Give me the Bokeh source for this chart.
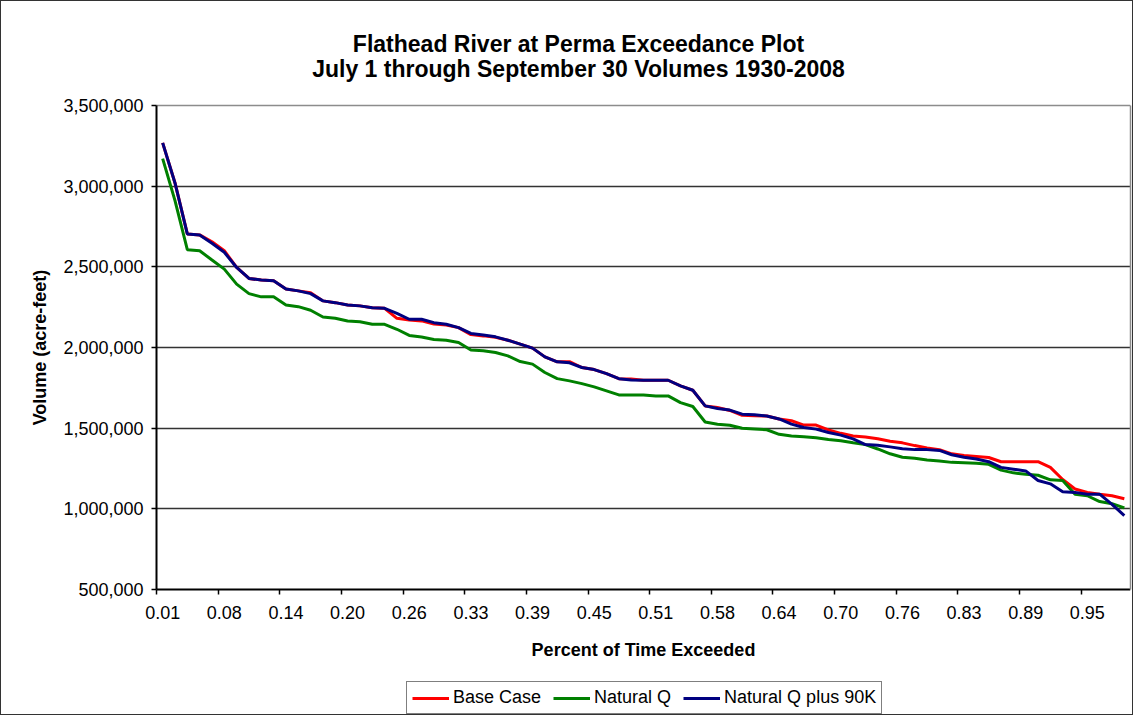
from bokeh.plotting import figure
from bokeh.models import (FixedTicker, NumeralTickFormatter, Legend, LegendItem,
                          Label, ColumnDataSource, LinearAxis, Grid)
from bokeh.embed import file_html
from bokeh.resources import INLINE

# ---------------- data (acre-feet), ranked years 1..79 ----------------
rank = list(range(1, 80))

base_case = [
    3268000, 3020000, 2704000, 2698000, 2655000, 2600000, 2496000, 2428000, 2418000, 2413000,
    2362000, 2351000, 2340000, 2289000, 2278000, 2264000, 2258000, 2247000, 2243000, 2181000,
    2170000, 2165000, 2145000, 2140000, 2123000, 2080000, 2072000, 2063000, 2045000, 2021000,
    1996000, 1942000, 1911000, 1912000, 1876000, 1863000, 1838000, 1807000, 1805000, 1797000,
    1797000, 1797000, 1762000, 1735000, 1638000, 1628000, 1610000, 1580000, 1577000, 1575000,
    1557000, 1546000, 1519000, 1519000, 1489000, 1468000, 1451000, 1445000, 1434000, 1419000,
    1409000, 1392000, 1377000, 1367000, 1341000, 1330000, 1324000, 1318000, 1292000, 1292000,
    1292000, 1292000, 1257000, 1182000, 1123000, 1102000, 1091000, 1081000, 1063000,
]

natural_q = [
    3171000, 2910000, 2606000, 2600000, 2542000, 2486000, 2393000, 2334000, 2314000, 2314000,
    2264000, 2253000, 2231000, 2189000, 2181000, 2164000, 2160000, 2144000, 2144000, 2113000,
    2075000, 2065000, 2050000, 2045000, 2031000, 1984000, 1980000, 1969000, 1948000, 1913000,
    1897000, 1845000, 1807000, 1793000, 1776000, 1756000, 1731000, 1706000, 1706000, 1706000,
    1700000, 1700000, 1658000, 1634000, 1538000, 1524000, 1518000, 1499000, 1495000, 1490000,
    1462000, 1451000, 1447000, 1441000, 1430000, 1422000, 1409000, 1398000, 1371000, 1341000,
    1320000, 1314000, 1303000, 1297000, 1288000, 1286000, 1282000, 1276000, 1240000, 1223000,
    1214000, 1208000, 1180000, 1176000, 1091000, 1081000, 1045000, 1032000, 1006000,
]

natural_q_90k = [
    3268000, 3020000, 2704000, 2698000, 2646000, 2590000, 2496000, 2428000, 2418000, 2413000,
    2362000, 2351000, 2334000, 2289000, 2278000, 2264000, 2258000, 2247000, 2243000, 2212000,
    2175000, 2175000, 2154000, 2144000, 2123000, 2087000, 2077000, 2066000, 2045000, 2021000,
    1996000, 1942000, 1911000, 1905000, 1876000, 1863000, 1838000, 1807000, 1799000, 1797000,
    1797000, 1797000, 1762000, 1735000, 1638000, 1622000, 1612000, 1587000, 1583000, 1575000,
    1557000, 1525000, 1504000, 1494000, 1473000, 1457000, 1434000, 1398000, 1394000, 1384000,
    1373000, 1367000, 1367000, 1362000, 1335000, 1320000, 1309000, 1292000, 1257000, 1246000,
    1235000, 1176000, 1155000, 1106000, 1102000, 1091000, 1091000, 1028000, 958000,
]

x_tick_ranks = [1, 6, 11, 16, 21, 26, 31, 36, 41, 46, 51, 56, 61, 66, 71, 76]
x_tick_labels = ["0.01", "0.08", "0.14", "0.20", "0.26", "0.33", "0.39", "0.45",
                 "0.51", "0.58", "0.64", "0.70", "0.76", "0.83", "0.89", "0.95"]
y_ticks = [500000, 1000000, 1500000, 2000000, 2500000, 3000000, 3500000]

title_lines = ["Flathead River at Perma Exceedance Plot",
               "July 1 through September 30 Volumes 1930-2008"]
series_names = ["Base Case", "Natural Q", "Natural Q plus 90K"]
series_colors = ["#ff0000", "#008000", "#000080"]

FONT = "Liberation Sans"

# ---------------- layout geometry (canvas pixels) ----------------
W, H = 1133, 715
RIGHT, BOTTOM = 4, 1                      # borders around the frame
X_LEFT_PX = 155                           # canvas column of the left plot edge
Y_TOP_PX, Y_BOT_PX = 104, 588             # canvas rows of the 3.5M and 0.5M lines
Y_MIN, Y_MAX = y_ticks[0], y_ticks[-1]
X_MIN, X_MAX = 0.5, 79.5
frame_w = W - RIGHT
frame_bottom = H - BOTTOM
x_per_px = (X_MAX - X_MIN) / (frame_w - X_LEFT_PX)
y_per_px = (Y_MAX - Y_MIN) / (Y_BOT_PX - Y_TOP_PX)
x_start = X_MIN - X_LEFT_PX * x_per_px
y_start = Y_MIN - (frame_bottom - Y_BOT_PX) * y_per_px
y_end = Y_MAX + Y_TOP_PX * y_per_px


def px_x(cx):
    return x_start + cx * x_per_px


def px_y(cy):
    return Y_MAX - (cy - Y_TOP_PX) * y_per_px


src = ColumnDataSource(dict(x=rank, base=base_case, nat=natural_q, nat90=natural_q_90k))

p = figure(width=W, height=H, output_backend="svg", toolbar_location=None,
           x_range=(x_start, X_MAX), y_range=(y_start, y_end),
           min_border_left=0, min_border_right=RIGHT, min_border_top=0,
           min_border_bottom=BOTTOM,
           background_fill_color="white", border_fill_color="white")
p.styles = {"border": "1px solid #333333"}
p.outline_line_color = None

# grid lines limited to the plot area
p.xgrid.visible = False
grid_props = Grid.properties()
if "cross_bounds" in grid_props:
    p.ygrid.ticker = FixedTicker(ticks=y_ticks[1:-1])
    p.ygrid.grid_line_color = "#333333"
    p.ygrid.grid_line_width = 1.5
    p.ygrid.cross_bounds = (X_MIN, X_MAX)
    p.add_layout(Grid(dimension=1, ticker=FixedTicker(ticks=[Y_MAX]),
                      cross_bounds=(X_MIN, X_MAX),
                      grid_line_color="#8c8c8c", grid_line_width=1.5))
else:
    p.ygrid.visible = False
    gl = y_ticks[1:-1]
    p.segment(x0=[X_MIN] * len(gl), x1=[X_MAX] * len(gl), y0=gl, y1=gl,
              line_color="#333333", line_width=1.5, level="underlay")
    p.segment(x0=[X_MIN], x1=[X_MAX], y0=[Y_MAX], y1=[Y_MAX],
              line_color="#8c8c8c", line_width=1.5, level="underlay")

# lines
r_base = p.line("x", "base", source=src, line_color=series_colors[0], line_width=3)
r_nat = p.line("x", "nat", source=src, line_color=series_colors[1], line_width=3)
r_nat90 = p.line("x", "nat90", source=src, line_color=series_colors[2], line_width=3)

# x axis, fixed at the 500,000 line
xa = p.xaxis[0]
xa.fixed_location = Y_MIN
xa.bounds = (X_MIN, X_MAX)
xa.ticker = FixedTicker(ticks=x_tick_ranks,
                        minor_ticks=[r - 0.5 for r in x_tick_ranks])
xa.major_label_overrides = {r: lab for r, lab in zip(x_tick_ranks, x_tick_labels)}
xa.major_tick_out = 0
xa.major_tick_in = 0
xa.minor_tick_out = 5
xa.minor_tick_in = 0
xa.minor_tick_line_color = "black"
xa.minor_tick_line_width = 1.5
xa.axis_line_color = "black"
xa.axis_line_width = 2
xa.major_label_text_font = FONT
xa.major_label_text_font_size = "18px"
xa.major_label_text_color = "black"
xa.major_label_standoff = 11
xa.axis_label = "Percent of Time Exceeded"
xa.axis_label_text_font = FONT
xa.axis_label_text_font_size = "18px"
xa.axis_label_text_font_style = "bold"
xa.axis_label_text_color = "black"
xa.axis_label_standoff = 18

# y axis, fixed at the left plot edge
ya = p.yaxis[0]
ya.fixed_location = X_MIN
ya.bounds = (Y_MIN, Y_MAX)
ya.ticker = FixedTicker(ticks=y_ticks)
ya.formatter = NumeralTickFormatter(format="0,0")
ya.major_tick_out = 5
ya.major_tick_in = 0
ya.minor_tick_out = 0
ya.minor_tick_in = 0
ya.major_tick_line_color = "black"
ya.major_tick_line_width = 1.5
ya.axis_line_color = "black"
ya.axis_line_width = 2
ya.major_label_text_font = FONT
ya.major_label_text_font_size = "18px"
ya.major_label_text_color = "black"
ya.major_label_standoff = 8
ya.axis_label = "Volume (acre-feet)"
ya.axis_label_text_font = FONT
ya.axis_label_text_font_size = "18px"
ya.axis_label_text_font_style = "bold"
ya.axis_label_text_color = "black"
ya.axis_label_standoff = 10

# right edge of the plot area
p.add_layout(LinearAxis(bounds=(Y_MIN, Y_MAX), ticker=FixedTicker(ticks=[]),
                        axis_line_color="#8c8c8c", axis_line_width=1.5,
                        major_tick_out=0, major_tick_in=0, minor_tick_out=0, minor_tick_in=0,
                        major_label_text_font_size="0px", major_label_standoff=0), "right")

# title (two centred lines)
for txt, cy in zip(title_lines, [42, 67.5]):
    p.add_layout(Label(x=px_x(577), y=px_y(cy), text=txt,
                       text_align="center", text_baseline="alphabetic",
                       text_font=FONT, text_font_size="23px",
                       text_font_style="bold", text_color="black"))

# legend at the bottom of the canvas
legend = Legend(items=[LegendItem(label=series_names[0], renderers=[r_base]),
                       LegendItem(label=series_names[1], renderers=[r_nat]),
                       LegendItem(label=series_names[2], renderers=[r_nat90])],
                orientation="horizontal", location=(X_LEFT_PX + 250, 1),
                label_text_font=FONT, label_text_font_size="18px", label_text_color="black",
                glyph_width=37, glyph_height=20, label_standoff=4, spacing=12,
                padding=5, margin=0, label_height=20,
                border_line_color="black", border_line_width=1.5,
                background_fill_color="white", background_fill_alpha=1)
p.add_layout(legend, "center")

open("out.html", "w").write(file_html(p, INLINE))
